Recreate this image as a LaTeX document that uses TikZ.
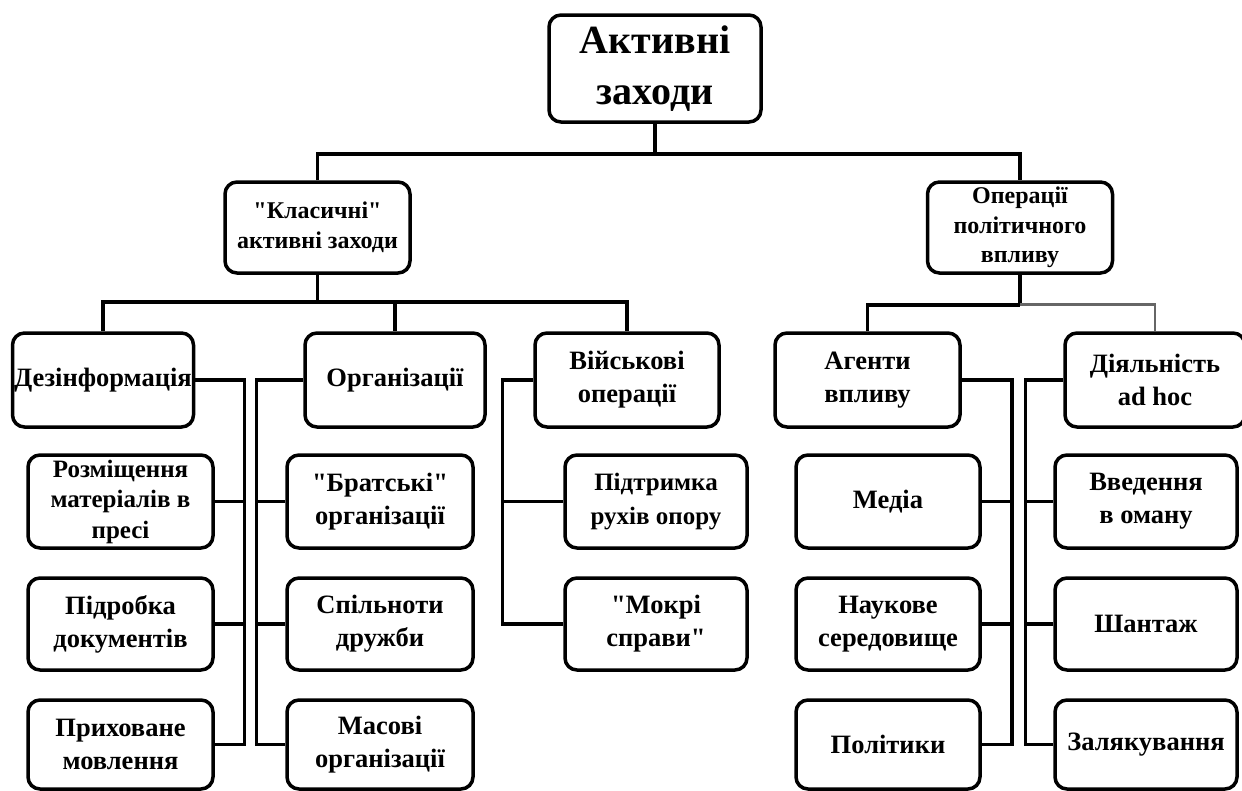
\documentclass[tikz,border=0pt]{standalone}
\usepackage{fontspec}
\setmainfont{Liberation Serif}
\newcommand\qmark{\textquotedbl}
\begin{document}
\begin{tikzpicture}[x=1pt, y=-1pt,
    box/.style={draw, line width=3.5pt, rounded corners=12pt, align=center,
      inner sep=0pt, font=\bfseries\fontsize{26.5}{33}\selectfont},
    toptext/.style={font=\bfseries\fontsize{24}{29.5}\selectfont},
    link/.style={line width=3.5pt},
    greylink/.style={line width=2.6pt, black!60}]
  % pixels of the page: y grows downward, so the rows are read top to bottom
  \useasboundingbox (0,0) rectangle (1242,790);
  \node[box, minimum width=212pt, minimum height=107pt,
        font=\bfseries\fontsize{40}{51}\selectfont] (root) at (655,68.5) {Активні\\заходи};
  \node[box, toptext, minimum width=185pt, minimum height=91pt] (klas) at (317.5,227.5) {\qmark Класичні\qmark\\активні заходи};
  \node[box, toptext, minimum width=185pt, minimum height=91pt] (oper) at (1020,227.5) {Операції\\політичного\\впливу};
  % second row
  \node[box, minimum width=181pt, minimum height=94pt] (dez) at (103,380) {Дезінформація};
  \node[box, minimum width=180pt, minimum height=94pt] (org) at (395,380) {Організації};
  \node[box, minimum width=184pt, minimum height=94pt] (mil) at (627,380) {Військові\\операції};
  \node[box, minimum width=185pt, minimum height=94pt] (ag) at (867.5,380) {Агенти\\впливу};
  \node[box, minimum width=180pt, minimum height=94pt] (ah) at (1155,380) {Діяльність\\ad hoc};
  % under dez
  \node[box, minimum width=185pt, minimum height=93pt, font=\bfseries\fontsize{25}{30.5}\selectfont] (rz) at (120.5,501.5) {Розміщення\\матеріалів в\\пресі};
  \node[box, minimum width=185pt, minimum height=92pt] (pd) at (120.5,624) {Підробка\\документів};
  \node[box, minimum width=185pt, minimum height=89pt] (ph) at (120.5,744.5) {Приховане\\мовлення};
  % under org
  \node[box, minimum width=186pt, minimum height=93pt] (br) at (380,501.5) {\qmark Братські\qmark\\організації};
  \node[box, minimum width=186pt, minimum height=92pt] (sp) at (380,624) {Спільноти\\дружби};
  \node[box, minimum width=186pt, minimum height=89pt] (ms) at (380,744.5) {Масові\\організації};
  % under mil
  \node[box, minimum width=182pt, minimum height=93pt, font=\bfseries\fontsize{25}{34}\selectfont] (pt) at (656,501.5) {Підтримка\\рухів опору};
  \node[box, minimum width=182pt, minimum height=92pt] (mk) at (656,624) {\qmark Мокрі\\справи\qmark};
  % under ag
  \node[box, minimum width=184pt, minimum height=93pt] (md) at (888,501.5) {Медіа};
  \node[box, minimum width=184pt, minimum height=92pt] (nk) at (888,624) {Наукове\\середовище};
  \node[box, minimum width=184pt, minimum height=89pt] (pl) at (888,744.5) {Політики};
  % under ah
  \node[box, minimum width=182pt, minimum height=93pt] (vv) at (1146,501.5) {Введення\\в оману};
  \node[box, minimum width=182pt, minimum height=92pt] (sh) at (1146,624) {Шантаж};
  \node[box, minimum width=182pt, minimum height=89pt] (zl) at (1146,744.5) {Залякування};
  % tree lines
  \draw[link] (root.south) -- ++(0,30) coordinate (h0);
  \draw[link] (klas.north) |- (h0) -| (oper.north);
  \draw[link] (klas.south) -- ++(0,27) coordinate (h1);
  \draw[link] (dez.north) |- (h1) -| (mil.north);
  \draw[link] (h1) -| (org.north);
  \draw[link] (oper.south) -- ++(0,30) coordinate (h2);
  \draw[link] (ag.north) |- (h2);
  \draw[greylink] (h2) -| (ah.north);
  % side spines
  \draw[link] (dez.east) -- ++(49,0) coordinate (s1) |- (ph.east);
  \foreach \n in {rz,pd} \draw[link] (\n.east) -- (\n.east -| s1);
  \draw[link] (org.west) -- ++(-47,0) coordinate (s2) |- (ms.west);
  \foreach \n in {br,sp} \draw[link] (\n.west) -- (\n.west -| s2);
  \draw[link] (mil.west) -- ++(-31,0) coordinate (s3) |- (mk.west);
  \draw[link] (pt.west) -- (pt.west -| s3);
  \draw[link] (ag.east) -- ++(50,0) coordinate (s4) |- (pl.east);
  \foreach \n in {md,nk} \draw[link] (\n.east) -- (\n.east -| s4);
  \draw[link] (ah.west) -- ++(-38,0) coordinate (s5) |- (zl.west);
  \foreach \n in {vv,sh} \draw[link] (\n.west) -- (\n.west -| s5);
\end{tikzpicture}
\end{document}
